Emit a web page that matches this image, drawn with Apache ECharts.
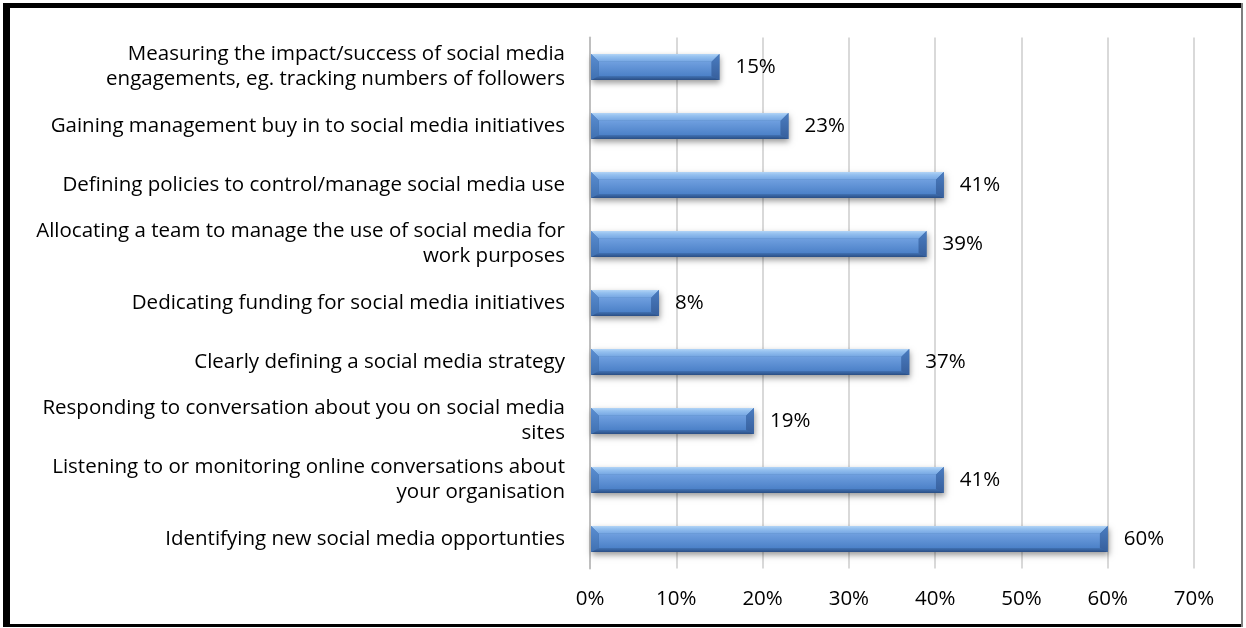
<!DOCTYPE html>
<html>
<head>
<meta charset="utf-8">
<script src="https://cdn.jsdelivr.net/npm/echarts@6/dist/echarts.min.js"></script>
<style>
  html, body { margin: 0; padding: 0; background: #ffffff; }
  #chart { width: 1246px; height: 628px; }
</style>
</head>
<body>
<div id="chart"></div>
<script>
// Challenges in running social media activity (share of respondents, %)
const categories = [
  'Measuring the impact/success of social media\nengagements, eg. tracking numbers of followers',
  'Gaining management buy in to social media initiatives',
  'Defining policies to control/manage social media use',
  'Allocating a team to manage the use of social media for\nwork purposes',
  'Dedicating funding for social media initiatives',
  'Clearly defining a social media strategy',
  'Responding to conversation about you on social media\nsites',
  'Listening to or monitoring online conversations about\nyour organisation',
  'Identifying new social media opportunties'
];
const values = [15, 23, 41, 39, 8, 37, 19, 41, 60];
const axisMax = 70;
const axisStep = 10;

const FONT = '"Open Sans", "Noto Sans", sans-serif';
const FONT_SIZE = 20.5;

// Bevelled bar: front face with a vertical gradient, a broad soft top bevel,
// a thin dark bottom bevel and darker facets on both ends
function renderBar(params, api) {
  const idx = api.value(0);
  const val = api.value(1);
  const p0 = api.coord([0, idx]);
  const p1 = api.coord([val, idx]);
  const band = api.size([0, 1])[1];
  const h = band * 0.44;
  const x0 = p0[0] + 1, x1 = p1[0];
  const y0 = p0[1] - h / 2, y1 = p0[1] + h / 2;
  const bs = Math.min(h * 0.3, (x1 - x0) / 2);
  const bt = bs;
  const bb = Math.round(h * 0.15);
  const grad = (stops) => new echarts.graphic.LinearGradient(0, 0, 0, 1, stops);
  return {
    type: 'group',
    children: [
      { // drop shadow base
        type: 'rect',
        shape: { x: x0, y: y0, width: x1 - x0, height: h },
        style: { fill: '#3a6aa8', shadowBlur: 6, shadowOffsetX: 1, shadowOffsetY: 3, shadowColor: 'rgba(0,0,0,0.4)' }
      },
      { // front face
        type: 'rect',
        shape: { x: x0 + bs, y: y0 + bt, width: Math.max(0, x1 - x0 - 2 * bs), height: h - bt - bb },
        style: { fill: grad([{ offset: 0, color: '#6f9fdf' }, { offset: 1, color: '#4c81c8' }]) }
      },
      { // top facet
        type: 'polygon',
        shape: { points: [[x0, y0], [x1, y0], [x1 - bs, y0 + bt], [x0 + bs, y0 + bt]] },
        style: { fill: grad([{ offset: 0, color: '#b2d4f6' }, { offset: 0.35, color: '#94c0ef' }, { offset: 1, color: '#74a5e2' }]) }
      },
      { // bottom facet
        type: 'polygon',
        shape: { points: [[x0, y1], [x1, y1], [x1 - bs, y1 - bb], [x0 + bs, y1 - bb]] },
        style: { fill: grad([{ offset: 0, color: '#4172b4' }, { offset: 1, color: '#2a4e84' }]) }
      },
      { // right facet
        type: 'polygon',
        shape: { points: [[x1, y0], [x1, y1], [x1 - bs, y1 - bb], [x1 - bs, y0 + bt]] },
        style: { fill: grad([{ offset: 0, color: '#4a7cc0' }, { offset: 1, color: '#375f9c' }]) }
      },
      { // left facet
        type: 'polygon',
        shape: { points: [[x0, y0], [x0, y1], [x0 + bs, y1 - bb], [x0 + bs, y0 + bt]] },
        style: { fill: grad([{ offset: 0, color: '#5b8ed1' }, { offset: 1, color: '#3f70b1' }]) }
      },
      { // value label
        type: 'text',
        x: x1 + 16,
        y: p0[1],
        style: { text: val + '%', fill: '#000000', font: FONT_SIZE + 'px ' + FONT, verticalAlign: 'middle', align: 'left' }
      }
    ]
  };
}

const chart = echarts.init(document.getElementById('chart'), null, { renderer: 'canvas' });

chart.setOption({
  backgroundColor: '#ffffff',
  animation: false,
  grid: { left: 590, right: 52, top: 37.5, bottom: 59.5, containLabel: false },
  xAxis: {
    type: 'value',
    min: 0,
    max: axisMax,
    interval: axisStep,
    axisLine: { show: false },
    axisTick: { show: false },
    splitLine: { show: true, lineStyle: { color: '#d9d9d9', width: 2 } },
    axisLabel: { formatter: '{value}%', color: '#000000', fontSize: FONT_SIZE, fontFamily: FONT, margin: 20 }
  },
  yAxis: {
    type: 'category',
    inverse: true,
    data: categories,
    axisLine: { show: true, lineStyle: { color: '#bfbfbf', width: 2 } },
    axisTick: { show: false },
    axisLabel: { color: '#000000', fontSize: FONT_SIZE, fontFamily: FONT, margin: 25, lineHeight: 25, align: 'right' }
  },
  series: [{
    type: 'custom',
    renderItem: renderBar,
    encode: { x: 1, y: 0 },
    data: values.map((v, i) => [i, v]),
    z: 3
  }],
  graphic: [
    { type: 'rect', shape: { x: 3, y: 3, width: 1240, height: 5 }, style: { fill: '#000000' }, z: 100 },
    { type: 'rect', shape: { x: 3, y: 3, width: 7, height: 624 }, style: { fill: '#000000' }, z: 100 },
    { type: 'rect', shape: { x: 3, y: 624, width: 1240, height: 3 }, style: { fill: '#000000' }, z: 100 },
    { type: 'rect', shape: { x: 1241, y: 3, width: 2, height: 624 }, style: { fill: '#7f7f7f' }, z: 100 }
  ]
});
</script>
</body>
</html>
